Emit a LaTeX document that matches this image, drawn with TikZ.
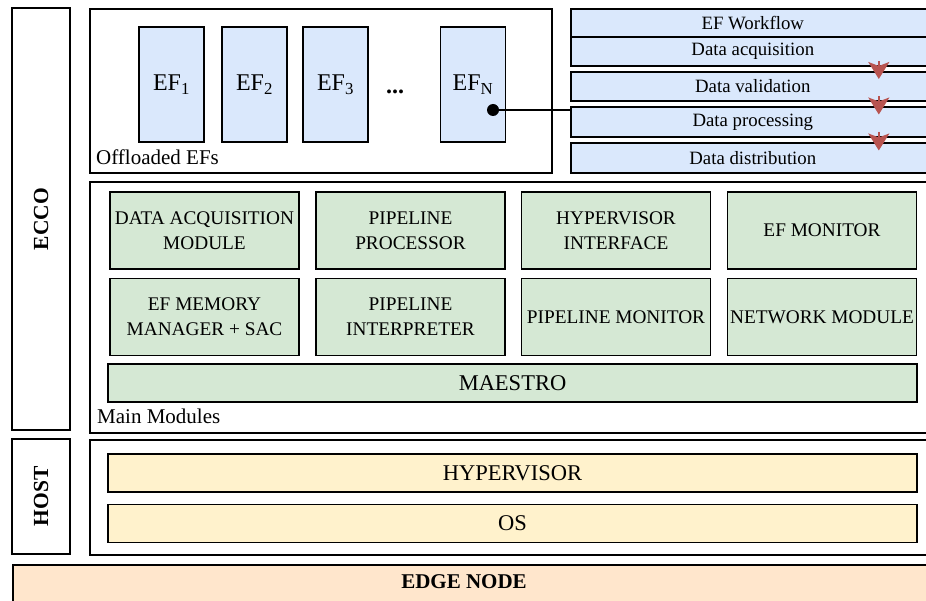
\documentclass[tikz,border=0pt]{standalone}
\usepackage{fontspec}
\setmainfont{Liberation Serif}
\usetikzlibrary{arrows.meta}

\definecolor{efblue}{HTML}{DAE8FC}
\definecolor{modgreen}{HTML}{D5E8D4}
\definecolor{hostyellow}{HTML}{FFF2CC}
\definecolor{edgepeach}{HTML}{FFE6CC}
\definecolor{flowred}{HTML}{B85450}

\newcommand{\fs}[2]{\fontsize{#1}{#2}\selectfont}

\tikzset{
  frame/.style={draw=black, line width=1.8pt, fill=white, inner sep=0pt},
  efbox/.style={draw=black, line width=1.5pt, fill=efblue, inner sep=0pt,
    minimum width=65pt, minimum height=115pt, font=\fs{24}{28}},
  wfrow/.style={draw=black, line width=1.6pt, fill=efblue, inner sep=0pt,
    minimum width=364pt, font=\fs{18.8}{22}},
  module/.style={draw=black, line width=1.5pt, fill=modgreen, inner sep=0pt,
    minimum width=189pt, minimum height=77pt, align=center, font=\fs{19.3}{25}},
  hostbar/.style={draw=black, line width=1.6pt, fill=hostyellow, inner sep=0pt,
    minimum width=809pt, minimum height=38pt, font=\fs{22.5}{26}},
  sidelabel/.style={rotate=90, font=\fs{21.5}{24}\bfseries},
  caption/.style={anchor=base west, inner sep=0pt, font=\fs{21}{24}},
  wfarrow/.style={draw=flowred, fill=flowred, line width=1.8pt,
    -{Stealth[length=17pt 0, width=21pt 0, inset=4pt 0]}},
}

\begin{document}
\begin{tikzpicture}[x=1pt, y=-1pt]
\useasboundingbox (0,0) rectangle (926,601);

% side columns
\node[frame, minimum width=58pt, minimum height=422pt] (eccoside) at (41,219) {};
\node[sidelabel] (eccolabel) at (41,219) {ECCO};
\node[frame, minimum width=58pt, minimum height=115pt] (hostside) at (41,496.5) {};
\node[sidelabel] (hostlabel) at (41,496.5) {HOST};

% edge node base
\node[draw=black, line width=1.8pt, fill=edgepeach, inner sep=0pt,
  minimum width=960pt, minimum height=80pt, anchor=north west] (edgebox) at (12,564) {};
\node[font=\fs{21}{24}\bfseries] (edgelabel) at (464,582) {EDGE NODE};

% offloaded EFs
\node[frame, minimum width=462pt, minimum height=164pt, anchor=north west] (offl) at (89,8) {};
\node[caption] (offlcap) at (96,165) {Offloaded EFs};
\node[efbox] (ef1) at (171.5,84.5) {EF\textsubscript{1}};
\node[efbox] (ef2) at (254.5,84.5) {EF\textsubscript{2}};
\node[efbox] (ef3) at (335.5,84.5) {EF\textsubscript{3}};
\node[font=\fs{24}{28}\bfseries, anchor=base] (dots) at (395,94) {...};
\node[efbox] (efn) at (473,84.5) {EF\textsubscript{N}};
\node[circle, fill=black, inner sep=0pt, minimum size=12pt] (dot) at (493,110) {};

% EF workflow stack
\node[wfrow, minimum height=28pt, anchor=north west] (wfhead) at (570,8) {EF Workflow};
\node[wfrow, minimum height=29.5pt, anchor=north west] (acq) at (570,36) {Data acquisition};
\node[wfrow, minimum height=29.5pt, anchor=north west] (val) at (570,71) {Data validation};
\node[wfrow, minimum height=29.5pt, anchor=north west] (proc) at (570,106.5) {Data processing};
\node[wfrow, minimum height=29.5pt, anchor=north west] (dist) at (570,142.5) {Data distribution};

\draw[line width=1.5pt] (dot.center) -- (dot -| proc.west);

\draw[wfarrow] ([shift={(126,-6)}]acq.south) -- ([shift={(126,8)}]val.north);
\draw[wfarrow] ([shift={(126,-6)}]val.south) -- ([shift={(126,8)}]proc.north);
\draw[wfarrow] ([shift={(126,-6)}]proc.south) -- ([shift={(126,8)}]dist.north);

% main modules
\node[frame, minimum width=900pt, minimum height=251pt, anchor=north west] (mainbox) at (89,181) {};
\node[caption] (maincap) at (97,423) {Main Modules};
\node[module] (dam) at (204.5,230.5) {DATA ACQUISITION\\MODULE};
\node[module] (pproc) at (410.5,230.5) {PIPELINE\\PROCESSOR};
\node[module] (hvi) at (616,230.5) {HYPERVISOR\\INTERFACE};
\node[module] (efmon) at (822,230.5) {EF MONITOR};
\node[module] (memmgr) at (204.5,317) {EF MEMORY\\MANAGER + SAC};
\node[module] (pint) at (410.5,317) {PIPELINE\\INTERPRETER};
\node[module] (pmon) at (616,317) {PIPELINE MONITOR};
\node[module] (net) at (822,317) {NETWORK MODULE};
\node[module, minimum width=809pt, minimum height=38pt, font=\fs{22.5}{26}] (maestro) at (512.5,383) {MAESTRO};

% host layer
\node[frame, minimum width=900pt, minimum height=115pt, anchor=north west] (hostbox) at (89,439) {};
\node[hostbar] (hyp) at (512.5,473) {HYPERVISOR};
\node[hostbar] (os) at (512.5,523.5) {OS};
\end{tikzpicture}
\end{document}
